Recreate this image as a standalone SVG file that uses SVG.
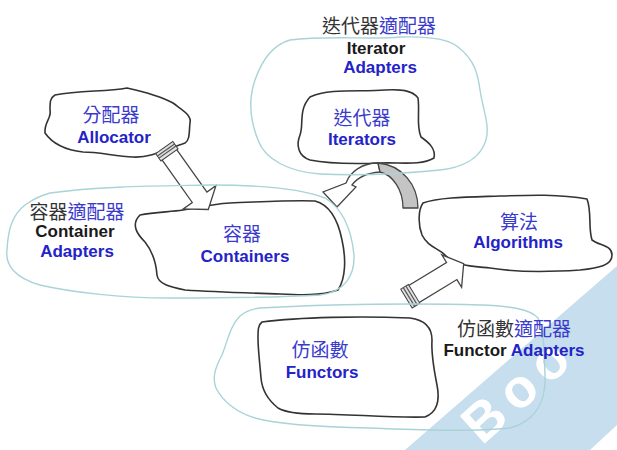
<svg xmlns="http://www.w3.org/2000/svg" width="617" height="450" viewBox="0 0 617 450">
<defs>
<style>
.cloud{fill:#ffffff;stroke:#333;stroke-width:1.6;stroke-linejoin:round}
.adapt{fill:none;stroke:#a9d3d8;stroke-width:1.4}
.cjk{font-family:"Noto Sans CJK TC","Noto Sans CJK SC",sans-serif;font-size:19px;text-anchor:middle}
.en{font-family:"Liberation Sans",Arial,sans-serif;font-size:17px;font-weight:bold;text-anchor:middle}
.blue{fill:#2323c8}
.blk{fill:#1a1a1a}
.cjkblk{fill:#333}
.cjkblue{fill:#3a3acc}
.arrow{fill:#ffffff;stroke:#444;stroke-width:1.3;stroke-linejoin:miter}
.cap{fill:#e2e2e2;stroke:#444;stroke-width:1}
.stripe{stroke:#555;stroke-width:1.2}
</style>
</defs>
<rect width="617" height="450" fill="#ffffff"/>

<!-- watermark band -->
<g id="watermark">
<polygon points="405,450 617,266 617,425 590,450" fill="#c6deed"/>
<text x="0" y="0" transform="translate(482,446) rotate(-42)" font-family="Liberation Sans,Arial,sans-serif" font-size="54" font-weight="bold" letter-spacing="9" fill="#ffffff">Boo</text>
</g>

<g id="allocator">
<path class="cloud" d="M55,95 C80,90 105,92 127,88 C145,92 160,96 173,103 C182,110 192,115 190,123 C189,132 190,140 185,143 C165,150 150,158 133,157 C115,156 98,152 83,152 C65,150 52,143 45,133 C44,122 52,118 50,110 C50,102 50,98 55,95 Z"/>
<text class="cjk cjkblue" x="111" y="122">分配器</text>
<text class="en blue" x="114" y="143">Allocator</text>
</g>

<g id="iterators">
<path class="cloud" d="M310,97 C330,88 360,92 385,90 C400,89 412,90 418,98 C420,112 416,125 421,137 C428,142 436,148 434,158 C420,166 400,162 380,163 C355,164 330,164 310,160 C298,156 296,145 300,135 C304,125 298,110 310,97 Z"/>
<text class="cjk cjkblue" x="362" y="125">迭代器</text>
<text class="en blue" x="362" y="145">Iterators</text>
</g>

<g id="containers">
<path class="cloud" d="M140,215 C155,212 170,212 183,210 C200,207 213,204 230,203 C260,202 290,200 315,201 C330,205 338,220 342,240 C346,258 346,278 338,290 C320,296 300,295 280,294 C250,293 215,292 185,290 C170,287 158,284 157,275 C156,262 153,252 145,242 C138,235 130,225 140,215 Z"/>
<text class="cjk cjkblue" x="242" y="241">容器</text>
<text class="en blue" x="245" y="262">Containers</text>
</g>

<g id="algorithms">
<path class="cloud" d="M423,203 C440,197 470,197 500,196 C530,195 560,194 587,199 C592,212 588,228 592,240 C600,246 612,245 612,255 C612,265 600,268 580,270 C550,272 520,273 490,268 C470,266 455,266 445,255 C438,248 428,247 422,235 C418,225 418,210 423,203 Z"/>
<text class="cjk cjkblue" x="519" y="229">算法</text>
<text class="en blue" x="518" y="248">Algorithms</text>
</g>

<g id="functors">
<path class="cloud" d="M262,322 C300,317 360,316 410,318 C425,320 432,328 432,340 C431,355 434,370 437,385 C440,400 438,412 425,417 C390,418 350,414 315,414 C300,414 285,412 278,408 C268,400 262,390 261,378 C260,365 258,350 258,338 C258,330 258,325 262,322 Z"/>
<text class="cjk cjkblue" x="320" y="357">仿函數</text>
<text class="en blue" x="322" y="378">Functors</text>
</g>

<g id="connectors">
<!-- allocator to containers -->
<g transform="translate(166,150) rotate(54.6)">
<polygon class="arrow" points="0,-9 58,-9 58,-20 73,0 58,20 58,9 0,9"/>
<rect class="cap" x="-3" y="-10.5" width="9" height="21"/>
<line class="stripe" x1="0" y1="-10.5" x2="0" y2="10.5"/>
<line class="stripe" x1="2.5" y1="-10.5" x2="2.5" y2="10.5"/>
</g>
<!-- functors to algorithms -->
<g transform="translate(409,297) rotate(-31.3)">
<polygon class="arrow" points="0,-10 50,-10 50,-19 64,0 50,19 50,10 0,10"/>
<rect class="cap" x="-3" y="-11" width="9" height="22" fill="#999"/>
<line class="stripe" x1="0" y1="-11" x2="0" y2="11"/>
<line class="stripe" x1="3" y1="-11" x2="3" y2="11"/>
</g>
<!-- iterators curved arrow to containers -->
<path class="arrow" d="M378,163 C362,163 350,172 346,183 L323,192 L337,207 L356,187 L352,185 C357,178 367,173 380,172 Z"/>
<path d="M403,208 L418,208 C418,185 402,165 378,163 L380,172 C393,175 403,190 403,208 Z" fill="#c4c4c4" stroke="#444" stroke-width="1.3" stroke-linejoin="round"/>
</g>

<g id="iterator-adapters">
<path class="adapt" d="M290,40 C330,35 370,40 400,37 C430,36 450,40 458,47 C475,60 478,75 480,90 C483,110 490,125 486,140 C480,160 460,168 440,170 C400,174 360,176 320,174 C290,172 265,160 258,140 C250,120 248,100 255,80 C262,60 272,45 290,40 Z"/>
<text class="cjk" x="379" y="33"><tspan class="cjkblk">迭代器</tspan><tspan class="cjkblue">適配器</tspan></text>
<text class="en blk" x="376" y="54">Iterator</text>
<text class="en blue" x="380" y="73">Adapters</text>
</g>

<g id="container-adapters">
<path class="adapt" d="M50,193 C100,186 160,186 210,185 C260,185 300,188 325,198 C345,210 352,235 354,255 C355,275 345,292 320,295 C270,298 220,298 170,298 C120,298 70,292 40,285 C15,278 5,265 7,250 C8,230 12,215 25,205 C35,198 42,195 50,193 Z"/>
<text class="cjk" x="77" y="219"><tspan class="cjkblk">容器</tspan><tspan class="cjkblue">適配器</tspan></text>
<text class="en blk" x="75" y="237">Container</text>
<text class="en blue" x="77" y="257">Adapters</text>
</g>

<g id="functor-adapters">
<path class="adapt" d="M260,308 C330,304 420,303 480,305 C510,306 530,309 538,318 C545,335 544,355 545,375 C546,400 538,420 510,428 C470,432 420,430 370,428 C320,427 280,425 255,418 C235,412 222,400 216,388 C212,378 215,368 222,355 C228,340 230,326 240,316 C246,311 252,309 260,308 Z"/>
<text class="cjk" x="514" y="336"><tspan class="cjkblk">仿函數</tspan><tspan class="cjkblue">適配器</tspan></text>
<text class="en" x="514" y="356"><tspan class="blk">Functor </tspan><tspan class="blue">Adapters</tspan></text>
</g>
</svg>
